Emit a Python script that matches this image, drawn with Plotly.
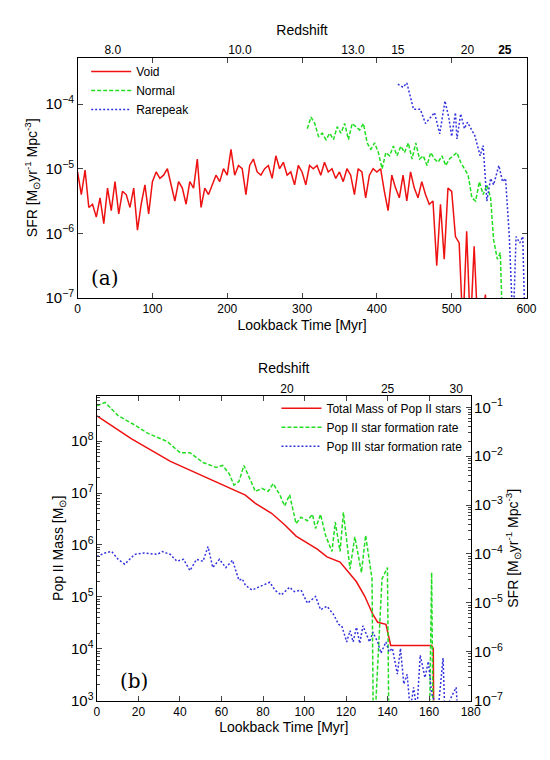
import numpy as np
import plotly.graph_objects as go

# ---- panel (a): SFR vs lookback time, log10 values ----
void_t = list(range(0, 380, 5)) + list(range(380, 550, 5)) + [548]
void_log = [-5.05, -5.4, -5.02, -5.6, -5.55, -5.75, -5.45, -5.85, -5.3, -5.65,
            -5.2, -5.7, -5.35, -5.4, -5.6, -5.3, -5.95, -5.55, -5.25, -5.7,
            -5.2, -5.05, -5.15, -5.1, -5.0, -5.25, -5.5, -5.2, -5.3, -5.55,
            -5.2, -5.3, -4.85, -5.6, -5.3, -5.4, -5.25, -5.1, -5.2, -5.0,
            -5.1, -4.7, -5.1, -4.95, -5.0, -5.4, -4.95, -4.85, -5.05, -5.1,
            -5.0, -4.95, -5.15, -4.8, -5.0, -4.9, -5.1, -5.05, -5.25, -4.95,
            -5.05, -5.25, -4.95, -5.0, -4.95, -5.1, -4.9, -5.05, -5.0, -5.15,
            -5.05, -5.2, -5.0, -5.1, -5.4, -5.0,
            -5.05, -5.45, -5.1, -5.0, -5.05, -5.0, -5.35, -5.65, -5.1, -5.3,
            -5.45, -5.1, -5.5, -5.05, -5.3, -5.45, -5.2, -5.4, -5.55, -5.5,
            -6.5, -5.55, -6.4, -5.3, -5.35, -6.05, -6.15, -7.5, -5.97, -7.5,
            -6.2, -7.5, -7.5, -6.95, -7.5]

normal_t = [307, 312, 317, 322, 327, 332, 337, 342, 347, 352, 357, 362, 367, 372,
            377, 382, 387, 392, 397, 402, 407, 412, 417, 422, 427, 432, 437, 442,
            447, 452, 457, 462, 467, 472, 477, 482, 487, 492, 497, 502, 507, 512,
            517, 522, 527, 532, 537, 542, 547, 552, 556, 561, 565, 568]
normal_log = [-4.38, -4.2, -4.3, -4.5, -4.45, -4.55, -4.45, -4.55, -4.35, -4.45,
              -4.3, -4.55, -4.3, -4.35, -4.4, -4.3, -4.6, -4.7, -4.6, -4.75,
              -5.0, -4.75, -4.8, -4.65, -4.8, -4.65, -4.75, -4.6, -4.85, -4.6,
              -4.85, -4.8, -4.95, -4.75, -4.85, -4.9, -4.8, -4.95, -4.85, -4.8,
              -4.75, -4.9, -5.0, -5.1, -5.45, -5.5, -5.2, -5.4, -5.25, -5.45,
              -6.1, -6.4, -6.3, -7.5]

rare_t = [428, 435, 440, 449, 458, 465, 477, 484, 491, 496, 500, 505, 507, 512,
          517, 521, 531, 538, 542, 547, 552, 556, 563, 568, 572, 577, 582, 586,
          591, 595, 598]
rare_log = [-3.69, -3.74, -3.67, -4.08, -4.08, -4.3, -4.13, -4.46, -3.95, -4.2,
            -4.5, -4.13, -4.54, -4.15, -4.38, -4.28, -4.49, -4.8, -4.64, -5.5,
            -5.15, -5.25, -4.95, -5.2, -5.15, -6.05, -7.5, -6.05, -6.15, -6.05, -7.5]

z_a_pos = [47, 217, 368, 428, 521, 571]
z_a_text = ["8.0", "10.0", "13.0", "15", "20", "<b>25</b>"]

# ---- panel (b) ----
mass_t = [0, 16.5, 35.4, 52.7, 66.8, 71.5, 76.3, 84.1, 90.4, 95.9, 106.1, 110.8,
          117.1, 120.3, 125, 129, 132.9, 135.2, 139.2, 141.5, 161.2, 162, 162.3]
mass_log = [8.49, 8.05, 7.61, 7.30, 7.05, 6.96, 6.80, 6.61, 6.39, 6.17, 5.92, 5.77,
            5.67, 5.51, 5.29, 5.01, 4.66, 4.51, 4.47, 4.06, 4.06, 4.0, 2.0]

pop2_t = [0, 3.9, 10.2, 18.1, 24.4, 33.8, 40.1, 44.8, 51.1, 57.4, 60.5, 63.7, 66,
          68.4, 70.8, 73.1, 76.3, 79.4, 82.5, 84.9, 88.1, 90.4, 92.8, 95.9, 98.3,
          101.4, 103.8, 105.3, 107.7, 110.1, 113.2, 114.8, 117.1, 118.7, 121.9,
          124.2, 127.4, 129.4, 131.3, 132.5, 133.2, 137.3, 139.9, 140.7, 160,
          161.2, 162]
pop2_log = [-0.97, -0.90, -1.17, -1.36, -1.53, -1.70, -1.93, -1.93, -2.13, -2.23,
            -2.19, -2.36, -2.59, -2.52, -2.19, -2.42, -2.72, -2.66, -2.72, -2.56,
            -2.79, -3.02, -2.79, -3.38, -3.25, -3.32, -3.19, -3.48, -3.19, -3.62,
            -3.95, -3.35, -3.95, -3.15, -4.31, -3.65, -4.38, -3.62, -4.21, -4.51,
            -8, -4.51, -4.28, -8, -8, -4.38, -8]

pop3_t = [0, 3.9, 7.1, 10.2, 13.4, 18.1, 22.8, 29.1, 31.4, 35.4, 38.5, 41.7, 44.8,
          48.0, 51.1, 53.5, 55.8, 59.0, 62.1, 65.3, 68.4, 70.0, 71.5, 74.7, 77.8,
          80.2, 83.3, 85.7, 88.8, 92.8, 95.1, 98.3, 101.4, 105.3, 107.7, 110.8,
          114.0, 116.4, 117.9, 120.3, 121.9, 123.4, 125.0, 126.6, 128.1, 131.3,
          132.9, 135.2, 136.8, 139.2, 140.7, 142.3, 144.7, 146.2, 147.8, 149.4,
          150.9, 152.5, 154.1, 155.7, 158.0, 159.6, 161.2, 164.3, 166.7, 167.5,
          173.0, 173.7]
pop3_log = [-4.05, -3.98, -3.95, -4.11, -4.21, -4.01, -3.98, -4.01, -3.95, -4.01,
            -4.15, -4.11, -4.34, -4.11, -4.15, -3.85, -4.28, -4.11, -4.28, -4.13,
            -4.54, -4.51, -4.64, -4.74, -4.68, -4.64, -4.58, -4.74, -4.84, -4.68,
            -4.77, -4.74, -5.01, -4.87, -5.14, -5.07, -5.24, -5.44, -5.47, -5.80,
            -5.57, -5.80, -5.50, -5.83, -5.47, -5.80, -5.60, -5.80, -6.03, -5.80,
            -6.00, -5.93, -6.46, -5.93, -6.66, -6.46, -7.2, -6.73, -7.2, -6.07,
            -6.53, -6.20, -6.86, -7.2, -6.13, -7.2, -6.73, -7.2]

z_b_pos = [-1, 91.5, 140, 173]
z_b_text = ["15", "20", "25", "30"]

RED, GREEN, BLUE = "#ee1111", "#22dd22", "#3333dd"
FONT = "Liberation Sans"
DASH = "4px,2px"
DOT = "2px,2px"

fig = go.Figure()
fig.add_trace(go.Scatter(x=void_t, y=10 ** np.array(void_log), name="Void",
                         line=dict(color=RED, width=1.5), xaxis="x", yaxis="y"))
fig.add_trace(go.Scatter(x=normal_t, y=10 ** np.array(normal_log), name="Normal",
                         line=dict(color=GREEN, width=1.5, dash=DASH), xaxis="x", yaxis="y"))
fig.add_trace(go.Scatter(x=rare_t, y=10 ** np.array(rare_log), name="Rarepeak",
                         line=dict(color=BLUE, width=1.5, dash=DOT), xaxis="x", yaxis="y"))
# invisible carriers so the top redshift axes get drawn
fig.add_trace(go.Scatter(x=z_a_pos, y=[1e-9] * len(z_a_pos), mode="markers", opacity=0,
                         showlegend=False, hoverinfo="skip", xaxis="x2", yaxis="y"))

fig.add_trace(go.Scatter(x=mass_t, y=10 ** np.array(mass_log), name="Total Mass of Pop II stars",
                         line=dict(color=RED, width=1.5), xaxis="x3", yaxis="y3", legend="legend2"))
fig.add_trace(go.Scatter(x=pop2_t, y=10 ** np.array(pop2_log), name="Pop II star formation rate",
                         line=dict(color=GREEN, width=1.5, dash=DASH), xaxis="x3", yaxis="y4", legend="legend2"))
fig.add_trace(go.Scatter(x=pop3_t, y=10 ** np.array(pop3_log), name="Pop III star formation rate",
                         line=dict(color=BLUE, width=1.5, dash=DOT), xaxis="x3", yaxis="y4", legend="legend2"))
fig.add_trace(go.Scatter(x=z_b_pos, y=[1.0] * len(z_b_pos), mode="markers", opacity=0,
                         showlegend=False, hoverinfo="skip", xaxis="x4", yaxis="y3"))

ax = dict(showline=True, linecolor="black", linewidth=1, ticks="inside", ticklen=5,
          showgrid=False, zeroline=False, tickfont=dict(size=12, color="black"))
minor = dict(ticks="inside", ticklen=3, showgrid=False)

fig.update_layout(
    width=550, height=760, paper_bgcolor="white", plot_bgcolor="white",
    margin=dict(l=0, r=0, t=0, b=0),
    font=dict(family=FONT, size=12, color="black"),
    showlegend=True,
    xaxis=dict(ax, domain=[0.124, 0.96], range=[0, 600], dtick=100, mirror="ticks",
               anchor="y", title=dict(text="Lookback Time [Myr]", standoff=4)),
    xaxis2=dict(ax, overlaying="x", side="top", range=[0, 600], anchor="y",
                tickvals=z_a_pos, ticktext=z_a_text, ticks="", showline=False,
                title=dict(text="Redshift", standoff=4)),
    yaxis=dict(ax, type="log", domain=[0.6145, 0.934], range=[-7, -3.28], dtick=1,
               exponentformat="power", mirror="ticks", anchor="x",
               title=dict(text="SFR [M<sub>⊙</sub>yr<sup>-1</sup> Mpc<sup>-3</sup>]", standoff=4)),
    xaxis3=dict(ax, domain=[0.16, 0.856], range=[0, 180], dtick=20, mirror="ticks",
                anchor="y3", title=dict(text="Lookback Time [Myr]", standoff=4)),
    xaxis4=dict(ax, overlaying="x3", side="top", range=[0, 180], anchor="y3",
                tickvals=z_b_pos, ticktext=z_b_text, ticks="", showline=False,
                title=dict(text="Redshift", standoff=4)),
    yaxis3=dict(ax, type="log", domain=[0.079, 0.484], range=[3, 8.87], dtick=1,
                exponentformat="power", anchor="x3", minor=minor,
                title=dict(text="Pop II Mass [M<sub>⊙</sub>]", standoff=4)),
    yaxis4=dict(ax, type="log", overlaying="y3", side="right", anchor="x3",
                range=[-7, -0.77], dtick=1, exponentformat="power", minor=minor,
                title=dict(text="SFR [M<sub>⊙</sub>yr<sup>-1</sup> Mpc<sup>-3</sup>]", standoff=4)),
    legend=dict(x=0.14, y=0.935, xanchor="left", yanchor="top", bgcolor="rgba(0,0,0,0)",
                font=dict(size=12), tracegroupgap=0, itemwidth=40),
    legend2=dict(x=0.85, y=0.487, xanchor="right", yanchor="top", bgcolor="rgba(0,0,0,0)",
                 font=dict(size=12), tracegroupgap=0, itemwidth=40),
    annotations=[
        dict(text="(a)", x=0.145, y=0.622, xref="paper", yref="paper", showarrow=False,
             xanchor="left", yanchor="bottom", font=dict(family="DejaVu Serif", size=20)),
        dict(text="(b)", x=0.2, y=0.087, xref="paper", yref="paper", showarrow=False,
             xanchor="left", yanchor="bottom", font=dict(family="DejaVu Serif", size=20)),
    ],
)

fig.write_html("out.html")
